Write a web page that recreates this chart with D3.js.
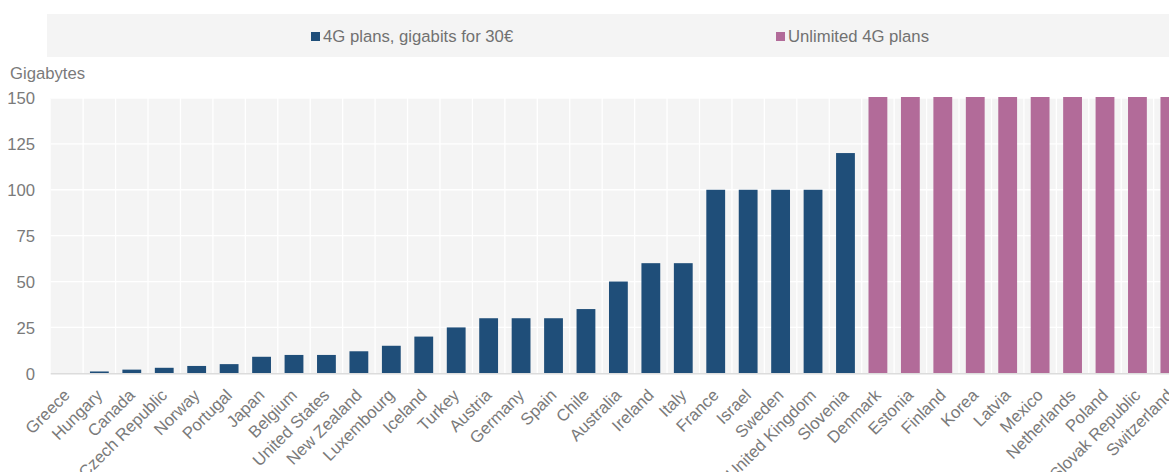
<!DOCTYPE html>
<html><head><meta charset="utf-8">
<script src="https://cdn.jsdelivr.net/npm/d3@7"></script>
<style>
html,body{margin:0;padding:0;background:#fff;overflow:hidden;}
text{font-family:"Liberation Sans",Arial,sans-serif;}
</style></head>
<body>
<svg id="c" width="1169" height="472"></svg>
<script>
const countries = ["Greece","Hungary","Canada","Czech Republic","Norway","Portugal","Japan","Belgium","United States","New Zealand","Luxembourg","Iceland","Turkey","Austria","Germany","Spain","Chile","Australia","Ireland","Italy","France","Israel","Sweden","United Kingdom","Slovenia","Denmark","Estonia","Finland","Korea","Latvia","Mexico","Netherlands","Poland","Slovak Republic","Switzerland"];
const gigabytes = [0,1,2,3,4,5,9,10,10,12,15,20,25,30,30,30,35,50,60,60,100,100,100,100,120,null,null,null,null,null,null,null,null,null,null];
const unlimited = [null,null,null,null,null,null,null,null,null,null,null,null,null,null,null,null,null,null,null,null,null,null,null,null,null,150,150,150,150,150,150,150,150,150,150];
const yTicks = [0,25,50,75,100,125,150];
const seriesNames = ["4G plans, gigabits for 30€","Unlimited 4G plans"];
const colors = ["#1f4e79","#b26b99"];

const svg = d3.select("#c");
const x = d3.scaleBand().domain(countries).range([50.7, 50.7 + 35*32.44]).paddingInner(0.42).paddingOuter(0.21);
const xb = d3.scaleBand().domain(countries).range([50.7, 50.7 + 35*32.44]);
const y = d3.scaleLinear().domain([0,150]).range([373.3, 98]);

// legend box
svg.append("rect").attr("x",47).attr("y",14).attr("width",1130).attr("height",43).attr("fill","#f4f4f4");
const legX = [311, 776];
seriesNames.forEach((s,i)=>{
  svg.append("rect").attr("x",legX[i]).attr("y",32).attr("width",9).attr("height",9).attr("fill",colors[i]);
  svg.append("text").attr("x",legX[i]+12).attr("y",41.5).attr("font-size",16.7).attr("fill","#717171").text(s);
});

// plot background
const x0 = xb.range()[0], x1 = xb.range()[1];
svg.append("rect").attr("x",x0).attr("y",y(150)).attr("width",x1-x0).attr("height",y(0)-y(150)).attr("fill","#f4f4f4");
// gridlines
svg.append("g").selectAll("line").data(yTicks.slice(1)).join("line")
  .attr("x1",x0).attr("x2",x1).attr("y1",d=>y(d)).attr("y2",d=>y(d)).attr("stroke","#fff").attr("stroke-width",1.3);
svg.append("g").selectAll("line").data(countries.slice(1)).join("line")
  .attr("x1",d=>xb(d)).attr("x2",d=>xb(d)).attr("y1",y(150)).attr("y2",y(0)).attr("stroke","#fff").attr("stroke-width",1.3);

// bars
[gigabytes, unlimited].forEach((arr,si)=>{
  svg.append("g").selectAll("rect").data(countries.map((c,i)=>({c,v:arr[i]})).filter(d=>d.v!=null)).join("rect")
    .attr("x",d=>x(d.c)).attr("width",x.bandwidth())
    .attr("y",d=>y(d.v) - (d.v>=150?1:0)).attr("height",d=>y(0)-y(d.v) + (d.v>=150?1:0))
    .attr("fill",colors[si]);
});

// baseline
svg.append("line").attr("x1",x0).attr("x2",x1).attr("y1",y(0)+0.5).attr("y2",y(0)+0.5).attr("stroke","#dcdcdc").attr("stroke-width",1.5);

// y axis
const yAxis = d3.axisLeft(y).tickValues(yTicks).tickSize(0).tickPadding(0);
const ya = svg.append("g").attr("transform","translate(35,0)").call(yAxis);
ya.select(".domain").remove();
ya.selectAll("text").attr("font-size",16.7).attr("fill","#7a7a7a").attr("font-family","Liberation Sans, Arial, sans-serif").attr("dy","0.35em");
svg.append("text").attr("x",10).attr("y",79).attr("font-size",16.7).attr("fill","#7a7a7a").text("Gigabytes");

// x axis
const xAxis = d3.axisBottom(xb).tickSize(0).tickPadding(0);
const xa = svg.append("g").attr("transform",`translate(0,${y(0)})`).call(xAxis);
xa.select(".domain").remove();
xa.selectAll("text").attr("font-size",16.7).attr("fill","#7a7a7a").attr("font-family","Liberation Sans, Arial, sans-serif")
  .attr("text-anchor","end").attr("dy",null).attr("y",0)
  .attr("transform","translate(4,23) rotate(-45)");
</script>
</body></html>
